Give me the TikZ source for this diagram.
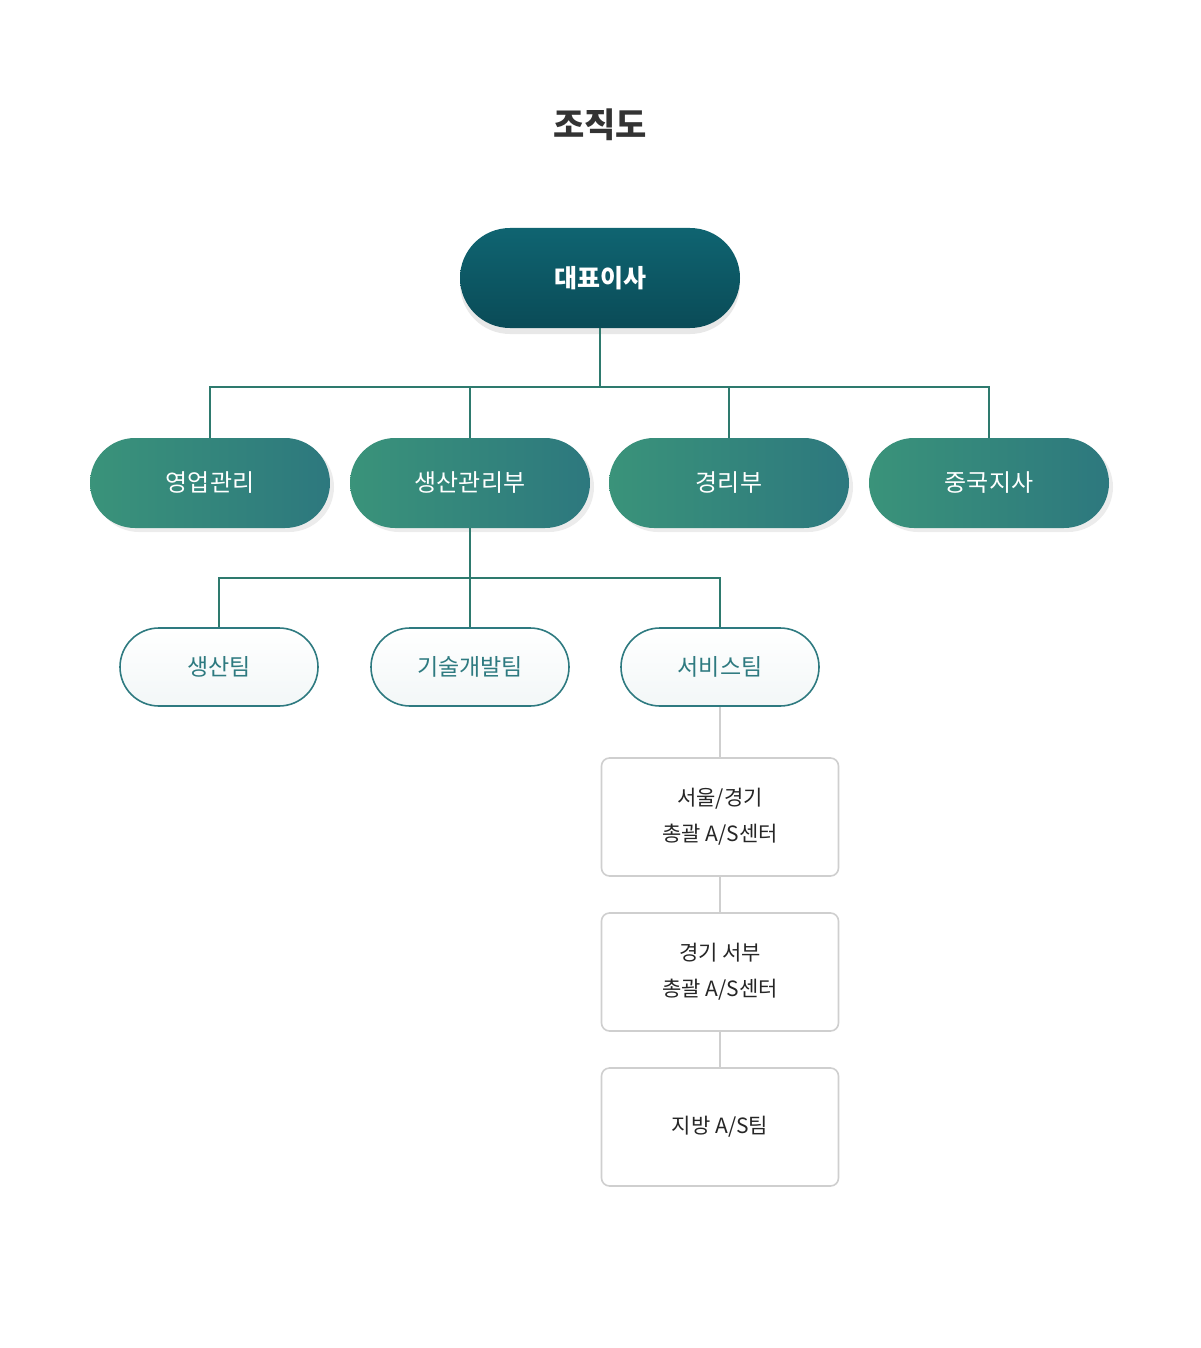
\documentclass[tikz,border=0pt]{standalone}
\usepackage{fontspec}
\setmainfont{Noto Sans CJK KR}
\usetikzlibrary{shadows,positioning}

\definecolor{ceotop}{HTML}{0F6471}
\definecolor{ceobot}{HTML}{0A4B57}
\definecolor{deptleft}{HTML}{3A937A}
\definecolor{deptright}{HTML}{2D787E}
\definecolor{teamline}{HTML}{2E7A80}
\definecolor{treeline}{HTML}{2E7A6E}
\definecolor{boxline}{HTML}{CFCFCF}

\tikzset{
  ceo/.style={rectangle,rounded corners=25pt,minimum width=140pt,minimum height=50pt,
    top color=ceotop,bottom color=ceobot,text=white,font=\fontsize{12.5}{14}\selectfont\bfseries,
    drop shadow={opacity=0.18,shadow xshift=0pt,shadow yshift=-3pt}},
  dept/.style={rectangle,rounded corners=22.5pt,minimum width=120pt,minimum height=45pt,
    left color=deptleft,right color=deptright,text=white,font=\fontsize{12}{14}\selectfont,
    drop shadow={opacity=0.15,shadow xshift=2pt,shadow yshift=-2pt}},
  team/.style={rectangle,rounded corners=19.5pt,minimum width=99pt,minimum height=39pt,
    top color=white,bottom color=teamline!6,draw=teamline,line width=0.8pt,text=teamline,
    font=\fontsize{11.5}{14}\selectfont},
  center/.style={rectangle,rounded corners=4pt,minimum width=118.5pt,minimum height=59pt,
    draw=boxline,line width=0.8pt,fill=white,text=black!85,align=center,
    font=\fontsize{10.5}{18}\selectfont},
  link/.style={draw=treeline,line width=0.8pt},
  graylink/.style={draw=boxline,line width=0.8pt}
}

\begin{document}
\begin{tikzpicture}[x=0.5pt,y=-0.5pt]
    % Page frame
    \useasboundingbox (0,0) rectangle (1200,1348);

    % Title
    \node[font=\fontsize{17}{20}\selectfont\bfseries,text=black!80] (title) at (600,125) {조직도};

    % Top of the tree
    \node[ceo] (ceo) at (600,278) {대표이사};

    % Departments
    \node[dept] (sales) at (210,483) {영업관리};
    \node[dept] (prod) at (470,483) {생산관리부};
    \node[dept] (acct) at (729,483) {경리부};
    \node[dept] (china) at (989,483) {중국지사};

    % Teams under production
    \node[team] (prodteam) at (219,667) {생산팀};
    \node[team] (devteam) at (470,667) {기술개발팀};
    \node[team] (svcteam) at (720,667) {서비스팀};

    % Service centers
    \node[center] (seoul) at (720,817) {서울/경기\\총괄 A/S센터};
    \node[center] (west) at (720,972) {경기 서부\\총괄 A/S센터};
    \node[center] (local) at (720,1127) {지방 A/S팀};

    % Lines from the top
    \coordinate (busa) at (600,387);
    \draw[link] (ceo.south) -- (busa);
    \draw[link] (busa) -| (sales.north);
    \draw[link] (busa) -| (prod.north);
    \draw[link] (busa) -| (acct.north);
    \draw[link] (busa) -| (china.north);

    % Lines to the teams
    \coordinate (busb) at (470,578);
    \draw[link] (prod.south) -- (devteam.north);
    \draw[link] (busb) -| (prodteam.north);
    \draw[link] (busb) -| (svcteam.north);

    % Lines to the centers
    \draw[graylink] (svcteam.south) -- (seoul.north);
    \draw[graylink] (seoul.south) -- (west.north);
    \draw[graylink] (west.south) -- (local.north);
\end{tikzpicture}
\end{document}
